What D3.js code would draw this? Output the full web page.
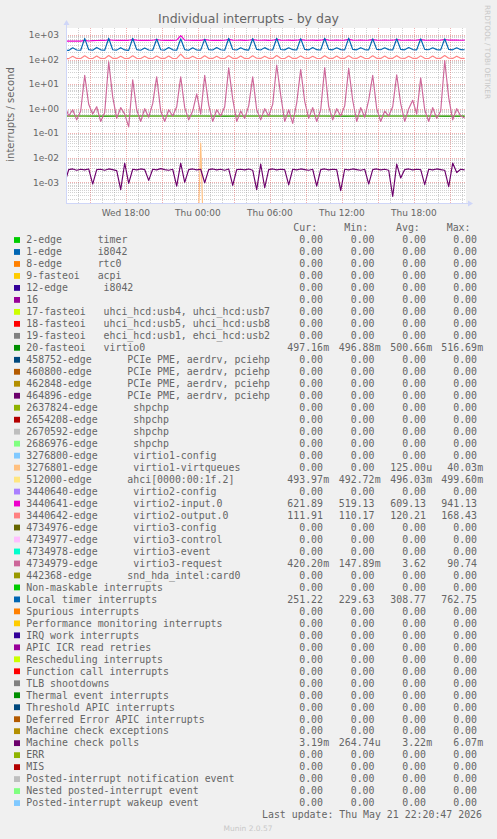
<!DOCTYPE html>
<html><head><meta charset="utf-8">
<script src="https://cdn.jsdelivr.net/npm/d3@7"></script>
<style>
html,body{margin:0;padding:0;background:#f0f0f0;}
svg{display:block;}
text{font-family:"DejaVu Sans",sans-serif;fill:#666666;}
.mono{font-family:"DejaVu Sans Mono",monospace;white-space:pre;}
</style></head><body>
<svg id="c" width="497" height="839"></svg>
<script>
// ---------------- DATA ----------------
const END = new Date(2026, 4, 21, 22, 20, 47);
const START = new Date(END.getTime() - 400 * 300 * 1000);
const DATA_START = new Date(START.getTime() - 390 * 1000);

const yTickValues = [1e3, 1e2, 1e1, 1e0, 1e-1, 1e-2, 1e-3];
const yTickLabels = ["1e+03", "1e+02", "1e+01", "1e+00", "1e-01", "1e-02", "1e-03"];

const legendLabels = [
  "2-edge      timer", "1-edge      i8042", "8-edge      rtc0", "9-fasteoi   acpi",
  "12-edge      i8042", "16", "17-fasteoi   uhci_hcd:usb4, uhci_hcd:usb7",
  "18-fasteoi   uhci_hcd:usb5, uhci_hcd:usb8", "19-fasteoi   ehci_hcd:usb1, ehci_hcd:usb2",
  "20-fasteoi   virtio0",
  "458752-edge      PCIe PME, aerdrv, pciehp", "460800-edge      PCIe PME, aerdrv, pciehp",
  "462848-edge      PCIe PME, aerdrv, pciehp", "464896-edge      PCIe PME, aerdrv, pciehp",
  "2637824-edge      shpchp", "2654208-edge      shpchp", "2670592-edge      shpchp",
  "2686976-edge      shpchp", "3276800-edge      virtio1-config", "3276801-edge      virtio1-virtqueues",
  "512000-edge      ahci[0000:00:1f.2]", "3440640-edge      virtio2-config",
  "3440641-edge      virtio2-input.0", "3440642-edge      virtio2-output.0",
  "4734976-edge      virtio3-config", "4734977-edge      virtio3-control",
  "4734978-edge      virtio3-event", "4734979-edge      virtio3-request",
  "442368-edge      snd_hda_intel:card0",
  "Non-maskable interrupts", "Local timer interrupts", "Spurious interrupts",
  "Performance monitoring interrupts", "IRQ work interrupts", "APIC ICR read retries",
  "Rescheduling interrupts", "Function call interrupts", "TLB shootdowns",
  "Thermal event interrupts", "Threshold APIC interrupts", "Deferred Error APIC interrupts",
  "Machine check exceptions", "Machine check polls", "ERR", "MIS",
  "Posted-interrupt notification event", "Nested posted-interrupt event", "Posted-interrupt wakeup event"
];
const legendColors = [
  "#00CC00","#0066B3","#FF8000","#FFCC00","#330099","#990099","#CCFF00","#FF0000","#808080","#008F00",
  "#00487D","#B35A00","#B38F00","#6B006B","#8FB300","#B30000","#BEBEBE","#80FF80","#80C9FF","#FFC080",
  "#FFE680","#AA80FF","#EE00CC","#FF8080","#666600","#FFBFFF","#00FFCC","#CC6699","#999900",
  "#00CC00","#0066B3","#FF8000","#FFCC00","#330099","#990099","#CCFF00","#FF0000","#808080","#008F00",
  "#00487D","#B35A00","#B38F00","#6B006B","#8FB300","#B30000","#BEBEBE","#80FF80","#80C9FF"
];
const curVals = [0,0,0,0,0,0,0,0,0,0.49716, 0,0,0,0,0,0,0,0,0,0, 0.49397,0,621.89,111.91,0,0,0,0.4202,0,
  0,251.22,0,0,0,0,0,0,0,0, 0,0,0,0.00319,0,0,0,0,0];
const minVals = [0,0,0,0,0,0,0,0,0,0.49688, 0,0,0,0,0,0,0,0,0,0, 0.49272,0,519.13,110.17,0,0,0,0.14789,0,
  0,229.63,0,0,0,0,0,0,0,0, 0,0,0,0.00026474,0,0,0,0,0];
const avgVals = [0,0,0,0,0,0,0,0,0,0.50066, 0,0,0,0,0,0,0,0,0,0.000125, 0.49603,0,609.13,120.21,0,0,0,3.62,0,
  0,308.77,0,0,0,0,0,0,0,0, 0,0,0,0.00322,0,0,0,0,0];
const maxVals = [0,0,0,0,0,0,0,0,0,0.51669, 0,0,0,0,0,0,0,0,0,0.04003, 0.4996,0,941.13,168.43,0,0,0,90.74,0,
  0,762.75,0,0,0,0,0,0,0,0, 0,0,0,0.00607,0,0,0,0,0];

// series sampled every 100 minutes
const virtio0Vals = [0.500,0.501,0.499,0.502,0.500,0.501,0.500,0.503,0.499,0.500,0.501,
  0.500,0.502,0.500,0.499,0.501,0.500,0.502,0.500,0.499,0.497];
const ahciVals = [0.496,0.495,0.497,0.496,0.495,0.496,0.497,0.496,0.495,0.496,0.497,
  0.496,0.495,0.496,0.497,0.496,0.495,0.496,0.496,0.495,0.494];

// series sampled every 20 minutes
const virtqueuesVals = [0,0,0,0,0,0,0,0,0,0, 0,0,0,0,0,0,0,0,0,0, 0,0,0,0,0,0,0,0,0,0,
  0,0,0,0,0.04003,0,0,0,0,0, 0,0,0,0,0,0,0,0,0,0, 0,0,0,0,0,0,0,0,0,0, 0,0,0,0,0,0,0,0,0,0,
  0,0,0,0,0,0,0,0,0,0, 0,0,0,0,0,0,0,0,0,0, 0,0,0,0,0,0,0,0,0,0, 0];
const inputVals = [565,560,568,562,566,600,572,590,598,605, 600,640,612,605,610,603,608,650,615,606,
  612,604,610,655,612,606,610,604,612,941, 620,610,608,612,606,650,615,608,612,605,
  610,660,618,610,614,608,612,655,616,610, 614,606,612,665,618,612,615,608,614,650,
  620,612,616,608,614,660,618,612,616,610, 615,665,620,613,617,610,616,650,620,612,
  616,610,614,655,619,612,617,610,615,652, 620,613,616,610,615,658,620,614,618,612, 622];
const outputVals = [110,109,136,111,110,142,112,110,138,111, 110,145,112,111,136,110,111,143,112,110,
  137,111,110,140,112,111,138,110,111,166, 113,111,137,112,110,143,112,111,136,111,
  110,144,112,111,138,111,110,142,113,111, 137,112,111,145,112,110,138,111,112,141,
  113,111,136,112,110,144,112,111,139,111, 112,143,113,111,137,112,110,142,112,111,
  138,111,112,144,113,111,136,112,111,141, 112,110,138,111,112,146,113,111,137,112, 112];
const requestVals = [1.4,0.5,0.9,0.35,0.8,23,1.5,0.6,1.2,0.3, 0.7,80,3,0.4,1.1,0.6,0.18,15,0.9,0.3,
  1.0,0.45,1.6,20,0.8,0.3,0.9,0.5,1.2,20, 1.1,0.35,0.8,4,0.6,23,1.4,0.3,0.9,0.5,
  1.2,46,2.5,0.3,0.8,0.4,1.3,20,0.9,0.35, 1.0,0.5,1.5,60,3.5,0.3,0.9,0.25,1.7,40,
  2.0,0.4,1.1,0.3,0.9,47,1.2,0.35,1.0,0.5, 1.3,44,2.2,0.3,1.1,0.45,2.2,23,1.0,0.3,
  0.8,0.5,1.2,24,1.6,0.3,1.0,2.2,0.6,18, 0.9,0.3,1.1,0.4,0.8,90,2.8,0.35,1.0,0.5, 0.42];
const localTimerVals = [242,236,300,246,240,725,252,240,312,248, 238,740,250,242,305,247,236,735,254,240,
  298,245,239,690,250,243,308,249,240,700, 255,238,302,246,241,680,252,244,310,250,
  240,735,256,245,300,252,243,720,258,246, 306,250,244,740,256,248,300,253,245,710,
  258,247,310,252,246,740,260,248,302,254, 247,745,258,249,305,255,248,705,260,250,
  300,254,246,700,258,248,308,255,249,700, 259,250,303,254,247,705,258,249,300,252, 251];
const mcPollVals = [0.0009,0.0033,0.0035,0.0031,0.0034,0.0032,0.0035,0.00085,0.0033,0.0034,
  0.0031,0.0035,0.0033,0.0030,0.0005,0.006,0.0009,0.0034,0.0032,0.0035,
  0.0033,0.0012,0.0034,0.0032,0.0036,0.0033,0.0031,0.0034,0.0007,0.006,
  0.001,0.0033,0.0035,0.0032,0.0034,0.00096,0.0033,0.0035,0.0032,0.0034,
  0.0031,0.0035,0.00075,0.0033,0.0034,0.0032,0.0035,0.0031,0.0005,0.0055,
  0.0006,0.0033,0.0035,0.0032,0.0034,0.0033,0.00078,0.0034,0.0032,0.0035,
  0.0033,0.0031,0.0034,0.0007,0.0033,0.0035,0.0032,0.0034,0.0033,0.00046,
  0.0034,0.0032,0.0035,0.0033,0.0031,0.0034,0.00085,0.0033,0.0035,0.0032,
  0.0034,0.0031,0.000265,0.0055,0.0015,0.0033,0.0035,0.0032,0.0034,0.0033,
  0.0008,0.0034,0.0032,0.0035,0.0033,0.0031,0.00066,0.00607,0.0025,0.0034, 0.00319];

// which legend row each plotted series belongs to, in drawing order
const plotted = [
  {row: 20, step: 100, values: ahciVals},
  {row: 9,  step: 100, values: virtio0Vals},
  {row: 19, step: 20,  values: virtqueuesVals},
  {row: 22, step: 20,  values: inputVals},
  {row: 23, step: 20,  values: outputVals},
  {row: 27, step: 20,  values: requestVals},
  {row: 30, step: 20,  values: localTimerVals},
  {row: 42, step: 20,  values: mcPollVals}
];

// ---------------- DRAWING ----------------
const svg = d3.select("#c");
const X0 = 66, X1 = 466, Y0 = 28.3, Y1 = 202.7;
const x = d3.scaleTime().domain([START, END]).range([X0, X1]);
const y = d3.scaleLog().domain([1.476e-4, 1874]).range([Y1, Y0]);
const crisp = v => Math.round(v) + 0.5;

svg.append("rect").attr("x", 0).attr("y", 0).attr("width", 497).attr("height", 839).attr("fill", "#f0f0f0");
svg.append("rect").attr("x", X0).attr("y", 28).attr("width", X1 - X0).attr("height", 175).attr("fill", "#ffffff");

// grid
const g = svg.append("g");
const minorCol = "rgba(143,143,143,0.4)", majorCol = "rgba(222,79,79,0.45)";
for (let d = -4; d <= 3; d++) {
  for (let k = 2; k <= 9; k++) {
    const v = k * Math.pow(10, d);
    if (v < y.domain()[0] || v > y.domain()[1]) continue;
    g.append("line").attr("x1", X0).attr("x2", X1).attr("y1", crisp(y(v))).attr("y2", crisp(y(v)))
      .attr("stroke", minorCol).attr("stroke-dasharray", "1,1");
  }
}
const hours = d3.timeHour.every(1).range(START, END);
hours.forEach(h => {
  const major = h.getHours() % 3 === 0;
  g.append("line").attr("x1", crisp(x(h))).attr("x2", crisp(x(h))).attr("y1", 28).attr("y2", 203)
    .attr("stroke", major ? majorCol : minorCol).attr("stroke-dasharray", "1,1");
});
yTickValues.forEach(v => {
  g.append("line").attr("x1", X0).attr("x2", X1).attr("y1", crisp(y(v))).attr("y2", crisp(y(v)))
    .attr("stroke", majorCol).attr("stroke-dasharray", "1,1");
});

// series
svg.append("clipPath").attr("id", "clip").append("rect")
  .attr("x", X0).attr("y", 28).attr("width", X1 - X0).attr("height", 175);
const lines = svg.append("g").attr("clip-path", "url(#clip)");
plotted.forEach(s => {
  const pts = s.values.map((v, i) => ({
    t: new Date(DATA_START.getTime() + i * s.step * 60000),
    v: v,
    show: v > 0 || s.values[i - 1] > 0 || s.values[i + 1] > 0
  }));
  const line = d3.line().defined(d => d.show).x(d => x(d.t)).y(d => y(d.v > 0 ? d.v : 1e-7));
  lines.append("path").attr("d", line(pts)).attr("fill", "none")
    .attr("stroke", legendColors[s.row]).attr("stroke-width", 1.15).attr("stroke-linejoin", "round");
});

// axes
const axisCol = "#CFD6F8";
svg.append("line").attr("x1", X0 + 0.5).attr("x2", X0 + 0.5).attr("y1", 203).attr("y2", 24).attr("stroke", axisCol);
svg.append("line").attr("x1", X0).attr("x2", 469).attr("y1", 203.5).attr("y2", 203.5).attr("stroke", axisCol);
svg.append("path").attr("d", `M${X0 - 2.5},25 L${X0 + 3.5},25 L${X0 + 0.5},20 Z`).attr("fill", axisCol);
svg.append("path").attr("d", `M468,200.5 L468,206.5 L473,203.5 Z`).attr("fill", axisCol);

// tick labels
yTickValues.forEach((v, i) => {
  svg.append("text").attr("x", 59).attr("y", y(v) + 3.3).attr("text-anchor", "end")
    .attr("font-size", 9).text(yTickLabels[i]);
});
const fmt = d3.timeFormat("%a %H:%M");
hours.filter(h => h.getHours() % 6 === 0).forEach(h => {
  svg.append("text").attr("x", x(h)).attr("y", 215.5).attr("text-anchor", "middle")
    .attr("font-size", 9).text(fmt(h));
});

// titles
svg.append("text").attr("x", 248.5).attr("y", 22.5).attr("text-anchor", "middle")
  .attr("font-size", 12.5).text("Individual interrupts - by day");
svg.append("text").attr("transform", "translate(14,114.5) rotate(-90)").attr("text-anchor", "middle")
  .attr("font-size", 10).text("interrupts / second");
svg.append("text").attr("transform", "translate(485,5) rotate(90)").attr("text-anchor", "start")
  .attr("font-size", 7.3).style("fill", "#c8c8c8").text("RRDTOOL / TOBI OETIKER");

// legend
const fmtVal = v => {
  if (v === 0) return ["0.00", ""];
  if (Math.abs(v) < 1e-3) return [(v * 1e6).toFixed(2), "u"];
  if (Math.abs(v) < 1) return [(v * 1e3).toFixed(2), "m"];
  return [v.toFixed(2), ""];
};
const colEnds = [323, 374.5, 426, 477];
const headX = [293.3, 344.3, 396, 446.7];
const heads = ["Cur:", "Min:", "Avg:", "Max:"];
const LFS = 9.9, base0 = 243.3, pitch = 11.98;
const lg = svg.append("g");
heads.forEach((h, j) => lg.append("text").attr("class", "mono").attr("x", headX[j]).attr("y", base0 - pitch)
  .attr("font-size", LFS).text(h));
legendLabels.forEach((lab, i) => {
  const by = base0 + i * pitch;
  lg.append("rect").attr("x", 14).attr("y", by - 6.2).attr("width", 6).attr("height", 5.8)
    .attr("fill", legendColors[i]);
  lg.append("text").attr("class", "mono").attr("x", 26.3).attr("y", by).attr("font-size", LFS).text(lab);
  [curVals[i], minVals[i], avgVals[i], maxVals[i]].forEach((v, j) => {
    const [num, unit] = fmtVal(v);
    lg.append("text").attr("class", "mono").attr("x", colEnds[j]).attr("y", by).attr("text-anchor", "end")
      .attr("font-size", LFS).text(num);
    if (unit) lg.append("text").attr("class", "mono").attr("x", colEnds[j] + 0.3).attr("y", by)
      .attr("font-size", LFS).text(unit);
  });
});
lg.append("text").attr("class", "mono").attr("x", 482).attr("y", base0 + 48 * pitch).attr("text-anchor", "end")
  .attr("font-size", LFS).text("Last update: Thu May 21 22:20:47 2026");
svg.append("text").attr("x", 248).attr("y", 831).attr("text-anchor", "middle")
  .attr("font-size", 7.5).style("fill", "#c8c8c8").text("Munin 2.0.57");
</script></body></html>
